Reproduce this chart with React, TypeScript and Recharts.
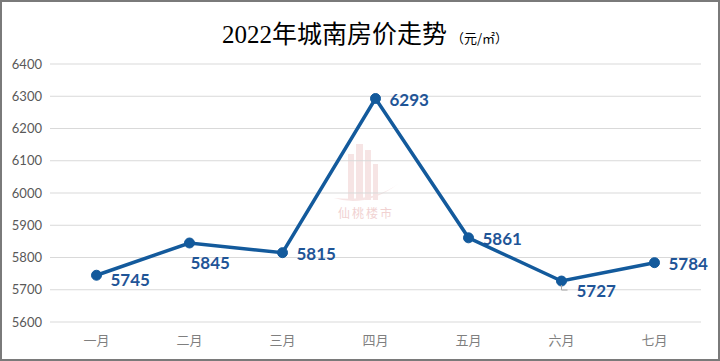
import React from "react";
import { LineChart, Line, XAxis, YAxis, CartesianGrid } from "recharts";

const months = ["一月", "二月", "三月", "四月", "五月", "六月", "七月"];
const prices = [5745, 5845, 5815, 6293, 5861, 5727, 5784];
const yTicks = [5600, 5700, 5800, 5900, 6000, 6100, 6200, 6300, 6400];
// where each data label sits relative to its point
const labelSpots = ["rightLow", "below", "right", "right", "right", "leader", "right"];

const data = months.map((m, i) => ({ month: m, price: prices[i] }));

const BLUE = "#135a9c";

function PriceLabel(props: any) {
  const { x, y, value, index } = props;
  const spot = labelSpots[index];
  let tx = x + 14;
  let ty = y + 1;
  if (spot === "below") {
    tx = x + 1;
    ty = y + 20;
  } else if (spot === "rightLow") {
    ty = y + 5;
  } else if (spot === "leader") {
    tx = x + 15;
    ty = y + 10;
  }
  return (
    <g>
      {spot === "leader" && (
        <polyline
          points={`${x},${y + 4} ${x},${y + 9} ${x + 6},${y + 9}`}
          fill="none"
          stroke="#a6a6a6"
          strokeWidth={1}
        />
      )}
      <text
        x={tx}
        y={ty}
        dy="0.36em"
        fill="#1f5597"
        fontFamily="Lato, 'Open Sans', sans-serif"
        fontWeight={700}
        fontSize={17}
      >
        {value}
      </text>
    </g>
  );
}

export default function App() {
  return (
    <div style={{ position: "fixed", left: 0, top: 0, width: 720, height: 361, background: "#fff" }}>
      <div
        style={{
          position: "absolute",
          left: 0,
          right: 0,
          top: 14,
          textAlign: "center",
          color: "#000",
          whiteSpace: "nowrap",
          paddingLeft: 10,
        }}
      >
        <span style={{ fontFamily: "'Liberation Serif', 'Noto Sans CJK SC', serif", fontSize: 25 }}>
          2022年城南房价走势
        </span>
        <span style={{ fontFamily: "'Noto Sans CJK SC', sans-serif", fontSize: 13, marginLeft: 4 }}>
          （元/㎡）
        </span>
      </div>
      {/* faint watermark */}
      <svg width={80} height={90} style={{ position: "absolute", left: 326, top: 140 }}>
        <g fill="#e8b4b4" opacity={0.35}>
          <rect x={22} y={14} width={6} height={46} />
          <rect x={30} y={4} width={7} height={56} />
          <rect x={39} y={10} width={6} height={50} />
          <rect x={47} y={24} width={5} height={36} />
          <path d="M8 58 Q40 68 72 44 Q48 62 8 58 Z" />
        </g>
        <text
          x={40}
          y={78}
          textAnchor="middle"
          fontFamily="'Noto Sans CJK SC', sans-serif"
          fontSize={12}
          fill="#e8b4b4"
          opacity={0.6}
          letterSpacing={2}
        >
          仙桃楼市
        </text>
      </svg>
      <div style={{ position: "absolute", left: 0, top: 0 }}>
        <LineChart width={720} height={361} data={data} margin={{ top: 64, right: 19, bottom: 0, left: 0 }}>
          <CartesianGrid vertical={false} stroke="#d9d9d9" strokeWidth={1} />
          <XAxis
            dataKey="month"
            axisLine={false}
            tickLine={false}
            height={39}
            tickMargin={8}
            padding={{ left: 46.5, right: 46.5 }}
            tick={{ fill: "#7f7f7f", fontSize: 13, fontFamily: "'Noto Sans CJK SC', sans-serif" }}
          />
          <YAxis
            domain={[5600, 6400]}
            ticks={yTicks}
            width={50}
            axisLine={false}
            tickLine={false}
            tickMargin={2}
            tick={{ fill: "#595959", fontSize: 13, fontFamily: "Lato, sans-serif" }}
          />
          <Line
            type="linear"
            dataKey="price"
            stroke={BLUE}
            strokeWidth={3.5}
            dot={{ r: 5, fill: BLUE, stroke: BLUE, strokeWidth: 1 }}
            label={<PriceLabel />}
            isAnimationActive={false}
          />
        </LineChart>
      </div>
      <div
        style={{
          position: "absolute",
          left: 0,
          top: 0,
          width: 720,
          height: 361,
          boxSizing: "border-box",
          border: "2px solid #7a7a7a",
          pointerEvents: "none",
        }}
      />
    </div>
  );
}
